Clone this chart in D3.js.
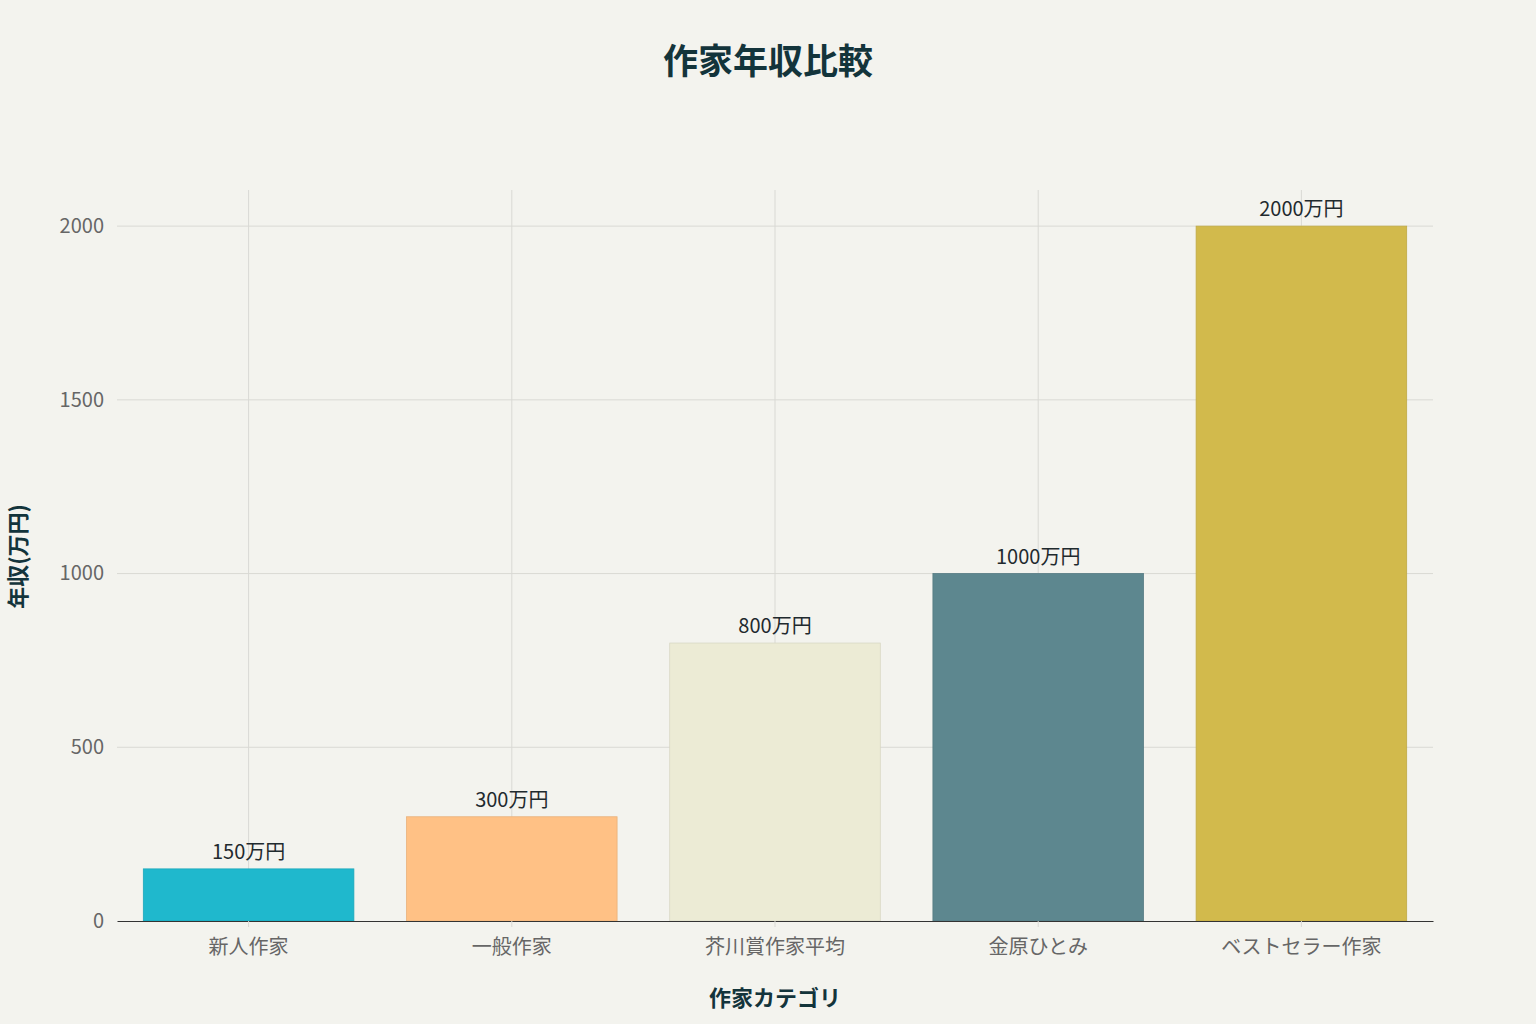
<!DOCTYPE html>
<html>
<head>
<meta charset="utf-8">
<script src="https://cdn.jsdelivr.net/npm/d3@7"></script>
<style>
  body { margin: 0; background: #f3f3ee; }
  svg { display: block; }
  text { font-family: "Noto Sans CJK JP", "Noto Sans", sans-serif; }
</style>
</head>
<body>
<div id="chart"></div>
<script>
// Chart data
const categories = ["新人作家", "一般作家", "芥川賞作家平均", "金原ひとみ", "ベストセラー作家"];
const incomes = [150, 300, 800, 1000, 2000];
const barLabels = ["150万円", "300万円", "800万円", "1000万円", "2000万円"];
const barColors = ["#1FB8CD", "#FFC185", "#ECEBD5", "#5D878F", "#D2BA4C"];
const yTicks = [0, 500, 1000, 1500, 2000];

let svgWidth = 1536;
let svgHeight = 1024;

let margins = { top: 190, right: 103, bottom: 103, left: 117 };
let width = svgWidth - margins.left - margins.right;
let height = svgHeight - margins.top - margins.bottom;

let svg = d3.select("#chart")
    .append("svg")
    .attr("width", svgWidth)
    .attr("height", svgHeight);

svg.append("rect")
    .attr("width", svgWidth)
    .attr("height", svgHeight)
    .attr("fill", "#f3f3ee");

let chartGroup = svg.append("g")
    .attr("transform", `translate(${margins.left}, ${margins.top})`);

// Scales
let xScale = d3.scaleBand()
    .domain(categories)
    .range([0, width])
    .paddingInner(0.2)
    .paddingOuter(0.1);

let yScale = d3.scaleLinear()
    .domain([0, 2104])
    .range([height, 0]);

// Gridlines
chartGroup.append("g")
    .selectAll("line")
    .data(yTicks.slice(1))
    .enter()
    .append("line")
    .attr("x1", 0)
    .attr("x2", width)
    .attr("y1", d => yScale(d))
    .attr("y2", d => yScale(d))
    .attr("stroke", "#d9d9d4")
    .attr("stroke-width", 1);

chartGroup.append("g")
    .selectAll("line")
    .data(categories)
    .enter()
    .append("line")
    .attr("x1", d => xScale(d) + xScale.bandwidth() / 2)
    .attr("x2", d => xScale(d) + xScale.bandwidth() / 2)
    .attr("y1", 0)
    .attr("y2", height)
    .attr("stroke", "#d9d9d4")
    .attr("stroke-width", 1);

// Bars
chartGroup.selectAll("rect.bar")
    .data(incomes)
    .enter()
    .append("rect")
    .attr("class", "bar")
    .attr("x", (d, i) => xScale(categories[i]))
    .attr("y", d => yScale(d))
    .attr("width", xScale.bandwidth())
    .attr("height", d => height - yScale(d))
    .attr("fill", (d, i) => barColors[i])
    .attr("stroke", (d, i) => d3.color(barColors[i]).darker(0.25))
    .attr("stroke-width", 0.8);

// Bar labels
chartGroup.selectAll("text.barLabel")
    .data(incomes)
    .enter()
    .append("text")
    .attr("class", "barLabel")
    .attr("x", (d, i) => xScale(categories[i]) + xScale.bandwidth() / 2)
    .attr("y", d => yScale(d) - 10)
    .attr("text-anchor", "middle")
    .attr("font-size", 20)
    .attr("fill", "#1f2a2e")
    .text((d, i) => barLabels[i]);

// Axes
let bottomAxis = d3.axisBottom(xScale).tickSize(6).tickSizeOuter(0);
let leftAxis = d3.axisLeft(yScale)
    .tickValues(yTicks)
    .tickFormat(d3.format("d"))
    .tickSize(0)
    .tickPadding(13);

let xAxisG = chartGroup.append("g")
    .attr("transform", `translate(0, ${height})`)
    .call(bottomAxis);
xAxisG.select(".domain").attr("stroke", "#333").attr("stroke-width", 1.2);
xAxisG.selectAll(".tick line").attr("stroke", "#d9d9d4");
xAxisG.selectAll(".tick text")
    .attr("font-size", 20)
    .attr("fill", "#666")
    .attr("dy", "1.2em")
    .style("font-family", '"Noto Sans CJK JP", sans-serif');

let yAxisG = chartGroup.append("g").call(leftAxis);
yAxisG.select(".domain").remove();
yAxisG.selectAll(".tick text")
    .attr("font-size", 20)
    .attr("fill", "#666")
    .style("font-family", '"Noto Sans CJK JP", sans-serif');

// Title
svg.append("text")
    .attr("x", 768)
    .attr("y", 74)
    .attr("text-anchor", "middle")
    .attr("font-size", 35)
    .attr("font-weight", "bold")
    .attr("fill", "#13343b")
    .text("作家年収比較");

// Axis titles
svg.append("text")
    .attr("transform", `translate(${margins.left + width / 2}, 1006)`)
    .attr("text-anchor", "middle")
    .attr("font-size", 22)
    .attr("font-weight", "bold")
    .attr("fill", "#13343b")
    .text("作家カテゴリ");

svg.append("text")
    .attr("transform", `translate(26, ${margins.top + height / 2 + 1}) rotate(-90)`)
    .attr("text-anchor", "middle")
    .attr("font-size", 22)
    .attr("font-weight", "bold")
    .attr("fill", "#13343b")
    .text("年収(万円)");
</script>
</body>
</html>
